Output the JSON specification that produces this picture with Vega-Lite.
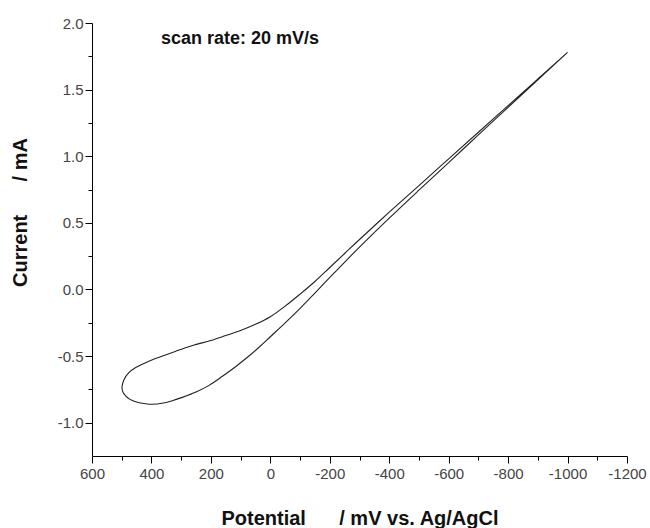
{
  "$schema": "https://vega.github.io/schema/vega-lite/v6.json",
  "width": 535,
  "height": 433,
  "autosize": "none",
  "padding": {"left": 92, "top": 23, "right": 23, "bottom": 72},
  "background": "white",
  "config": {"view": {"stroke": null}, "font": "Liberation Sans"},
  "datasets": {
    "cv": [
      {"i": 1, "E": -1000, "I": 1.78},
      {"i": 2, "E": -900, "I": 1.58},
      {"i": 3, "E": -800, "I": 1.38},
      {"i": 4, "E": -700, "I": 1.18},
      {"i": 5, "E": -600, "I": 0.98},
      {"i": 6, "E": -500, "I": 0.78},
      {"i": 7, "E": -400, "I": 0.58},
      {"i": 8, "E": -300, "I": 0.375},
      {"i": 9, "E": -250, "I": 0.27},
      {"i": 10, "E": -200, "I": 0.165},
      {"i": 11, "E": -150, "I": 0.06},
      {"i": 12, "E": -100, "I": -0.035},
      {"i": 13, "E": -50, "I": -0.125},
      {"i": 14, "E": 0, "I": -0.205},
      {"i": 15, "E": 50, "I": -0.262},
      {"i": 16, "E": 100, "I": -0.308},
      {"i": 17, "E": 150, "I": -0.346},
      {"i": 18, "E": 200, "I": -0.383},
      {"i": 19, "E": 262, "I": -0.421},
      {"i": 20, "E": 320, "I": -0.465},
      {"i": 21, "E": 374, "I": -0.509},
      {"i": 22, "E": 420, "I": -0.55},
      {"i": 23, "E": 453, "I": -0.586},
      {"i": 24, "E": 476, "I": -0.625},
      {"i": 25, "E": 492, "I": -0.675},
      {"i": 26, "E": 499, "I": -0.73},
      {"i": 27, "E": 496, "I": -0.77},
      {"i": 28, "E": 486, "I": -0.80},
      {"i": 29, "E": 472, "I": -0.825},
      {"i": 30, "E": 450, "I": -0.845},
      {"i": 31, "E": 420, "I": -0.858},
      {"i": 32, "E": 397, "I": -0.862},
      {"i": 33, "E": 360, "I": -0.852},
      {"i": 34, "E": 330, "I": -0.835},
      {"i": 35, "E": 296, "I": -0.81},
      {"i": 36, "E": 250, "I": -0.77},
      {"i": 37, "E": 206, "I": -0.72},
      {"i": 38, "E": 160, "I": -0.65},
      {"i": 39, "E": 116, "I": -0.578},
      {"i": 40, "E": 75, "I": -0.505},
      {"i": 41, "E": 37, "I": -0.432},
      {"i": 42, "E": 0, "I": -0.355},
      {"i": 43, "E": -41, "I": -0.27},
      {"i": 44, "E": -90, "I": -0.165},
      {"i": 45, "E": -131, "I": -0.07},
      {"i": 46, "E": -180, "I": 0.043},
      {"i": 47, "E": -221, "I": 0.138},
      {"i": 48, "E": -260, "I": 0.228},
      {"i": 49, "E": -300, "I": 0.318},
      {"i": 50, "E": -400, "I": 0.535},
      {"i": 51, "E": -500, "I": 0.745},
      {"i": 52, "E": -600, "I": 0.952},
      {"i": 53, "E": -700, "I": 1.16},
      {"i": 54, "E": -800, "I": 1.367},
      {"i": 55, "E": -900, "I": 1.574},
      {"i": 56, "E": -1000, "I": 1.78}
    ],
    "note": [
      {"E": 368, "I": 1.88, "label": "scan rate: 20 mV/s"}
    ]
  },
  "resolve": {"axis": {"x": "independent", "y": "independent"}},
  "layer": [
    {
      "data": {"name": "cv"},
      "mark": {"type": "line", "color": "#222222", "strokeWidth": 1.1, "interpolate": "catmull-rom", "clip": true},
      "encoding": {
        "x": {
          "field": "E",
          "type": "quantitative",
          "scale": {"domain": [-1200, 600], "reverse": true, "nice": false, "zero": false},
          "axis": {
            "orient": "bottom",
            "values": [600, 400, 200, 0, -200, -400, -600, -800, -1000, -1200],
            "labelExpr": "replace(format(datum.value, 'd'), '\u2212', '-')",
            "tickSize": 7,
            "grid": false,
            "domainColor": "#000000",
            "tickColor": "#000000",
            "labelColor": "#444444",
            "labelFont": "Liberation Sans",
            "labelFontSize": 15,
            "labelPadding": 3,
            "labelOverlap": false,
            "labelFlush": false,
            "title": "Potential\u00a0\u00a0\u00a0\u00a0\u00a0\u00a0/ mV vs. Ag/AgCl",
            "titleFont": "Liberation Sans",
            "titleFontSize": 20,
            "titleFontWeight": "bold",
            "titleColor": "#111111",
            "titleBaseline": "middle",
            "titleY": 62
          }
        },
        "y": {
          "field": "I",
          "type": "quantitative",
          "scale": {"domain": [-1.25, 2.0], "nice": false, "zero": false},
          "axis": {
            "orient": "left",
            "values": [-1.0, -0.5, 0, 0.5, 1.0, 1.5, 2.0],
            "labelExpr": "replace(format(datum.value, '.1f'), '\u2212', '-')",
            "tickSize": 7,
            "grid": false,
            "domainColor": "#000000",
            "tickColor": "#000000",
            "labelColor": "#444444",
            "labelFont": "Liberation Sans",
            "labelFontSize": 15,
            "labelPadding": 2,
            "labelOverlap": false,
            "labelFlush": false,
            "title": "Current\u00a0\u00a0\u00a0\u00a0\u00a0\u00a0/ mA",
            "titleFont": "Liberation Sans",
            "titleFontSize": 20,
            "titleFontWeight": "bold",
            "titleColor": "#111111",
            "titleBaseline": "middle",
            "titleAlign": "center",
            "titleX": -72,
            "titleY": 189
          }
        },
        "order": {"field": "i", "type": "quantitative"}
      }
    },
    {
      "data": {"name": "note"},
      "mark": {"type": "text", "align": "left", "baseline": "middle", "font": "Liberation Sans", "fontSize": 18, "fontWeight": "bold", "color": "#111111"},
      "encoding": {
        "x": {
          "field": "E",
          "type": "quantitative",
          "axis": {
            "orient": "bottom",
            "values": [500, 300, 100, -100, -300, -500, -700, -900, -1100],
            "labels": false,
            "domain": false,
            "grid": false,
            "tickSize": 4,
            "tickColor": "#000000",
            "title": null
          }
        },
        "y": {
          "field": "I",
          "type": "quantitative",
          "axis": {
            "orient": "left",
            "values": [-0.75, -0.25, 0.25, 0.75, 1.25, 1.75],
            "labels": false,
            "domain": false,
            "grid": false,
            "tickSize": 4,
            "tickColor": "#000000",
            "title": null
          }
        },
        "text": {"field": "label"}
      }
    }
  ]
}
